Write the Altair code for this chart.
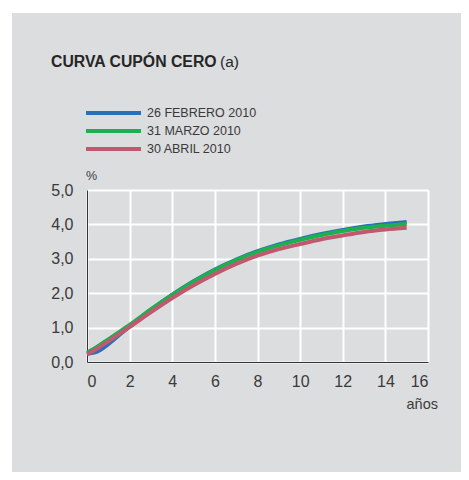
import altair as alt
import pandas as pd

years = [0, 0.5, 1, 1.5, 2, 3, 4, 5, 6, 7, 8, 9, 10, 11, 12, 13, 14, 15]
feb = [0.24, 0.31, 0.52, 0.78, 1.03, 1.52, 1.96, 2.35, 2.69, 2.98, 3.22, 3.42, 3.58, 3.72, 3.84, 3.94, 4.01, 4.07]
mar = [0.27, 0.45, 0.66, 0.87, 1.08, 1.53, 1.95, 2.33, 2.67, 2.96, 3.20, 3.39, 3.55, 3.69, 3.81, 3.90, 3.96, 4.01]
abr = [0.22, 0.40, 0.60, 0.81, 1.02, 1.45, 1.86, 2.23, 2.56, 2.85, 3.09, 3.28, 3.43, 3.57, 3.68, 3.78, 3.85, 3.90]
series = ["26 FEBRERO 2010", "31 MARZO 2010", "30 ABRIL 2010"]
colors = ["#2a70b8", "#1db04e", "#c0586f"]
widths = [4, 4, 6]

rows = []
for i, (name, vals) in enumerate(zip(series, [feb, mar, abr])):
    for t, v in zip(years, vals):
        rows.append({"t": t, "v": v, "serie": name, "k": i})
df = pd.DataFrame(rows)

FONT = "Liberation Sans"
TXT = "#3a3a3a"
GRAY = "#dcdddf"

one = pd.DataFrame({"a": [0]})

# white strips so the grey panel starts a few pixels in from the page margin
strip_left = alt.Chart(one).mark_rect(color="white").encode(
    x=alt.value(-80), x2=alt.value(-75), y=alt.value(-190), y2=alt.value(400)
)
strip_top = alt.Chart(one).mark_rect(color="white").encode(
    x=alt.value(-80), x2=alt.value(500), y=alt.value(-190), y2=alt.value(-177)
)

lines = alt.Chart(df).mark_line(interpolate="monotone", strokeCap="butt").encode(
    x=alt.X("t:Q", scale=alt.Scale(domain=[0, 16], nice=False),
            axis=alt.Axis(values=list(range(0, 17, 2)), title=None, grid=True,
                          gridColor="white", gridWidth=2, domainColor="#333",
                          domainWidth=1, ticks=False, labelFontSize=16,
                          labelColor=TXT, labelPadding=11, labelFont=FONT)),
    y=alt.Y("v:Q", scale=alt.Scale(domain=[0, 5], nice=False),
            axis=alt.Axis(values=[0, 1, 2, 3, 4, 5], title=None, grid=True,
                          gridColor="white", gridWidth=2, domainColor="#333",
                          domainWidth=1, ticks=False, labelFontSize=16,
                          labelColor=TXT, labelPadding=14, labelFont=FONT,
                          labelExpr="replace(format(datum.value,'.1f'),'.',',')")),
    color=alt.Color("serie:N", scale=alt.Scale(domain=series, range=colors),
                    legend=alt.Legend(title=None, orient="none", legendX=-3, legendY=-84,
                                      symbolType="stroke", symbolSize=3025,
                                      symbolStrokeWidth=4, labelFontSize=12.5,
                                      labelFont=FONT, labelColor=TXT, labelOffset=4,
                                      clipHeight=14, rowPadding=4, padding=0)),
    strokeWidth=alt.StrokeWidth("serie:N", scale=alt.Scale(domain=series, range=widths), legend=None),
    order=alt.Order("k:Q"),
)

title1 = alt.Chart(one).mark_text(
    text="CURVA CUPÓN CERO", font=FONT, fontSize=15.8, fontWeight="bold", color="#262626",
    align="left", baseline="alphabetic").encode(x=alt.value(-36), y=alt.value(-123))
title2 = alt.Chart(one).mark_text(
    text="(a)", font=FONT, fontSize=15.5, color="#262626",
    align="left", baseline="alphabetic").encode(x=alt.value(133), y=alt.value(-123))
pct = alt.Chart(one).mark_text(
    text="%", font=FONT, fontSize=12.5, color=TXT,
    align="left", baseline="alphabetic").encode(x=alt.value(-1), y=alt.value(-10))
anos = alt.Chart(one).mark_text(
    text="años", font=FONT, fontSize=14.5, color=TXT,
    align="right", baseline="alphabetic").encode(x=alt.value(351), y=alt.value(219))

chart = alt.layer(strip_left, strip_top, lines, title1, title2, pct, anos).properties(
    width=341, height=172,
    autosize=alt.AutoSizeParams(type="none"),
    padding={"left": 79, "top": 182, "right": 33, "bottom": 110},
    background=GRAY,
).configure_view(stroke=None)

chart.save("out.html", embed_options={"renderer": "svg", "actions": False})
